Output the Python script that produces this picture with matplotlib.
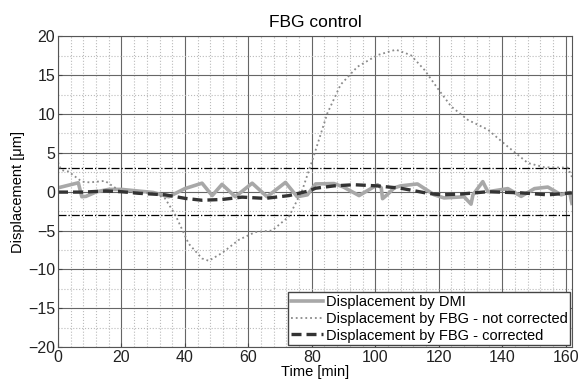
import matplotlib.pyplot as plt
from matplotlib.ticker import MultipleLocator

# --- data ---
t_dmi = [0, 6.4, 7.5, 8.8, 12.2, 16, 20, 25, 30, 34.9, 40, 45.4, 48.6, 51.7, 55.9,
         61.2, 65.9, 71.7, 75.4, 78.6, 81.2, 87, 90, 94.9, 100.7, 101.9, 102.3,
         104, 106, 108, 113.3, 118.6, 121.7, 128, 130.2, 130.8, 133.9, 135.5,
         141.8, 146, 150.2, 154.4, 158.6, 161.3, 162]
v_dmi = [0.5, 1.15, -0.65, -0.6, 0.0, 0.3, 0.3, 0.1, -0.1, -0.65, 0.4, 1.1, -0.5, 0.95, -0.65,
         1.1, -0.65, 1.2, -0.65, -0.4, 1.0, 1.05, 0.6, -0.5, 0.9, 0.5, -0.9,
         -0.3, 0.5, 0.75, 1.0, -0.4, -0.8, -0.65, -1.6, -0.4, 1.3, 0.0,
         0.4, -0.6, 0.4, 0.6, -0.4, -0.1, -1.5]

t_raw = [0, 1, 3.3, 7.5, 10, 12.5, 14.8, 17.5, 20, 25.3, 30.6, 33.8, 37, 41.2, 45.4, 47.5,
         51.7, 57, 62.2, 67.5, 72.8, 77, 80.7, 84.9, 89.1, 94.4, 100.7, 106.5, 111.2,
         115.5, 119.7, 123.9, 129.2, 135.5, 141.8, 148.1, 153.3, 160.7, 162]
v_raw = [3.8, 2.8, 2.6, 1.3, 1.2, 1.3, 1.4, 0.65, 0.0, -0.1, -0.2, -0.9, -3.0, -6.7, -8.6, -8.9,
         -7.9, -6.2, -5.2, -5.0, -3.2, 0.2, 4.7, 10.1, 13.8, 16.1, 17.6, 18.3, 17.6,
         15.7, 13.3, 11.0, 9.25, 8.0, 5.8, 3.7, 3.15, 3.1, 1.9]

t_cor = [0, 8, 15, 20, 25.3, 33.8, 40.1, 45.4, 51.7, 58, 65.3, 72.8, 79.1, 81.2, 87,
         93.3, 100.7, 108, 116.5, 120.7, 127, 135.5, 146, 154.4, 162]
v_cor = [-0.05, -0.05, 0.1, 0.0, -0.2, -0.4, -0.86, -1.1, -1.0, -0.7, -0.86, -0.5, 0.1, 0.45, 0.75,
         0.9, 0.75, 0.45, -0.2, -0.4, -0.3, 0.0, -0.15, -0.4, -0.15]

limit = 3

plt.rcParams['font.family'] = ['Liberation Sans', 'DejaVu Sans']

fig = plt.figure(figsize=(5.83, 3.8), dpi=100)
ax = fig.add_axes([0.0995, 0.087, 0.8815, 0.817])

ax.xaxis.set_major_locator(MultipleLocator(20))
ax.xaxis.set_minor_locator(MultipleLocator(4))
ax.yaxis.set_major_locator(MultipleLocator(5))
ax.yaxis.set_minor_locator(MultipleLocator(2.5))
ax.grid(which='major', color='#666666', linestyle='-', linewidth=0.8)
ax.grid(which='minor', color='#bbbbbb', linestyle=':', linewidth=0.8)
ax.set_axisbelow(True)

ax.axhline(limit, color='black', linestyle='-.', linewidth=0.9)
ax.axhline(-limit, color='black', linestyle='-.', linewidth=0.9)

ax.plot(t_dmi, v_dmi, color='#a8a8a8', linewidth=2.6, label='Displacement by DMI')
ax.plot(t_raw, v_raw, color='#8a8a8a', linestyle=':', linewidth=1.3,
        label='Displacement by FBG - not corrected')
ax.plot(t_cor, v_cor, color='#333333', linestyle='--', linewidth=2.4, dashes=(3, 1.5),
        label='Displacement by FBG - corrected')

ax.set_xlim(0, 162)
ax.set_ylim(-20, 20)
ax.tick_params(which='both', direction='in', labelsize=11.5, length=3, colors='#444444',
               labelcolor='#222222', pad=2)
ax.tick_params(which='minor', length=0)
for s in ax.spines.values():
    s.set_color('#555555')

ax.set_title('FBG control', fontsize=12.5, pad=7)
ax.set_xlabel('Time [min]', fontsize=10.5)
ax.xaxis.set_label_coords(0.5, -0.058)
ax.set_ylabel('Displacement [μm]', fontsize=10.5, labelpad=2)

leg = ax.legend(loc='lower right', fontsize=10.5, fancybox=False, framealpha=1,
                edgecolor='#444444', borderpad=0.2, labelspacing=0.2,
                handlelength=2.2, handletextpad=0.2, borderaxespad=0.1)

fig.savefig('out.png', dpi=100)
